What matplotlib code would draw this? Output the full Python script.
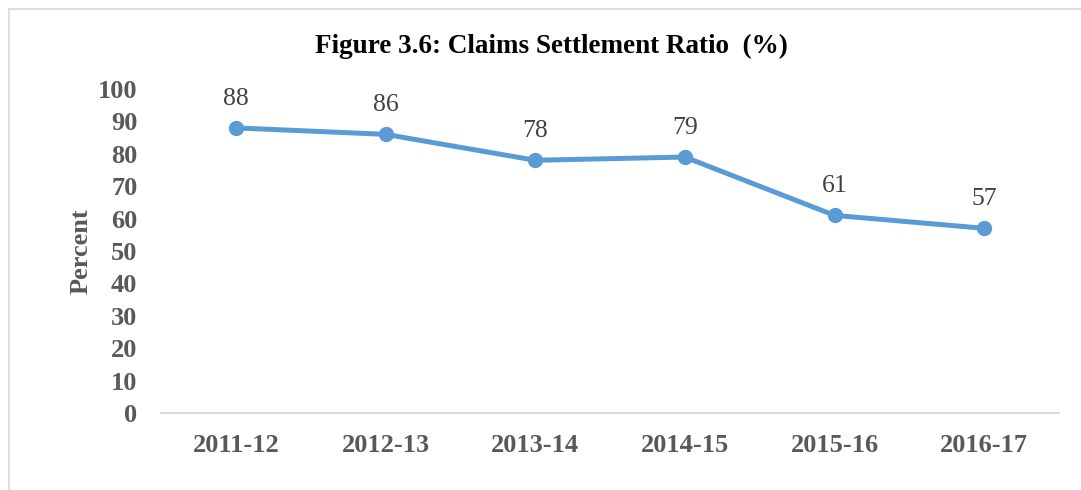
import matplotlib.pyplot as plt
from matplotlib.lines import Line2D

years = ['2011-12', '2012-13', '2013-14', '2014-15', '2015-16', '2016-17']
ratio = [88, 86, 78, 79, 61, 57]
yticks = list(range(0, 101, 10))

plt.rcParams['font.family'] = ['Liberation Serif', 'DejaVu Serif']

W, H = 1081, 490
fig = plt.figure(figsize=(W / 100, H / 100), dpi=100)
ax = fig.add_axes([161 / W, 77 / H, (1059 - 161) / W, (413 - 89) / H])

x = list(range(len(years)))
ax.plot(x, ratio, color='#5B9BD5', linewidth=3.6, marker='o', markersize=10,
        solid_capstyle='round', zorder=3)
for xi, v in zip(x, ratio):
    ax.annotate(str(v), (xi, v), xytext=(0, 13), textcoords='offset points',
                ha='center', va='bottom', fontsize=18.5, color='#404040')

ax.set_xlim(-0.5, len(years) - 0.5)
ax.set_ylim(0, 100)
ax.set_xticks(x)
ax.set_xticklabels(years, fontsize=19, fontweight='bold', color='#595959')
ax.set_yticks(yticks)
ax.set_yticklabels([str(t) for t in yticks], fontsize=19, fontweight='bold', color='#595959')
ax.tick_params(axis='both', length=0)
ax.tick_params(axis='x', pad=15)
ax.tick_params(axis='y', pad=17)

for s in ['top', 'right', 'left']:
    ax.spines[s].set_visible(False)
ax.spines['bottom'].set_color('#D9D9D9')
ax.spines['bottom'].set_linewidth(1.5)

ax.set_ylabel('Percent', fontsize=19, fontweight='bold', color='#595959', labelpad=4)
fig.text(551 / W, 1 - 46 / H, 'Figure 3.6: Claims Settlement Ratio  (%)',
         ha='center', va='center', fontsize=19.5, fontweight='bold', color='black')

# outer chart frame (only left and top edges visible)
fig.add_artist(Line2D([9 / W, 9 / W], [0, 1 - 9 / H], color='#D9D9D9', linewidth=1.2))
fig.add_artist(Line2D([9 / W, 1], [1 - 9 / H, 1 - 9 / H], color='#D9D9D9', linewidth=1.2))

fig.savefig('out.png', dpi=100)
